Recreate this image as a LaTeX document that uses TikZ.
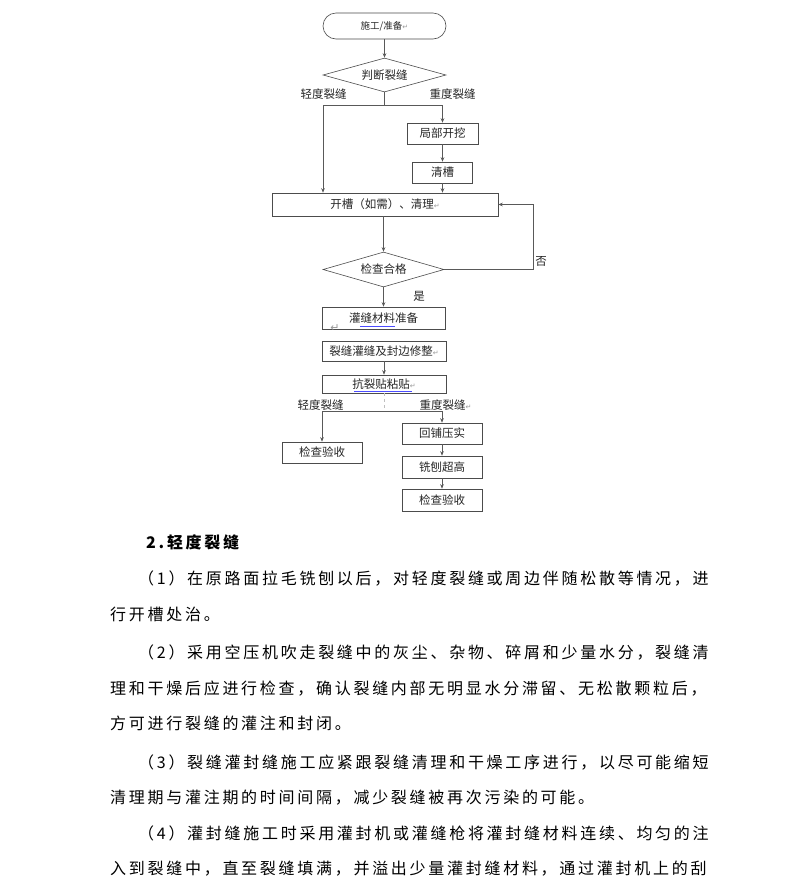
\documentclass[tikz,border=0pt]{standalone}
\usepackage{fontspec}
\setmainfont{Noto Sans CJK SC}
\newfontfamily\chartfont{Noto Sans CJK SC}
\newfontfamily\bodyfont[LetterSpace=17]{Noto Sans CJK SC}
\newfontfamily\markfont{DejaVu Sans}
\usepackage{tikz}
\usetikzlibrary{arrows.meta,positioning,shapes.geometric}
\newcommand\retmark{{\markfont\fontsize{7}{7}\selectfont\color{black!40}↵}}
\tikzset{
  fcBox/.style={draw=black!70, line width=0.6pt, fill=white, inner sep=0pt,
    minimum width=80pt, minimum height=21pt,
    text height=9pt, text depth=0.5pt, text=black!85,
    font=\chartfont\fontsize{11.5}{12}\selectfont},
  fcTerm/.style={fcBox, rounded corners=13pt, minimum width=123pt, minimum height=26pt,
    text height=7.5pt, font=\chartfont\fontsize{9.5}{10}\selectfont},
  fcDec/.style={fcBox, diamond, aspect=3.6, minimum width=123pt, minimum height=34pt},
  %% Connectors
  fcLine/.style={draw=black!65, line width=0.6pt},
  fcArr/.style={fcLine, ->, >={Stealth[length=4.5pt, width=3.6pt]}},
  fcFaint/.style={draw=black!25, line width=0.5pt, dashed},
  %% Branch labels
  fcLbl/.style={inner sep=0pt, text height=9pt, text depth=0.5pt, text=black!85,
    font=\chartfont\fontsize{11.5}{12}\selectfont},
  fcMark/.style={inner sep=0pt, text=black!40, font=\markfont\fontsize{11}{11}\selectfont},
  %% Paragraph text
  txtLine/.style={anchor=west, inner sep=0pt, text height=12.8pt, text depth=0.8pt,
    font=\bodyfont\fontsize{16}{16}\selectfont},
  txtHead/.style={txtLine, font=\bodyfont\bfseries\fontsize{16}{16}\selectfont},
}
\begin{document}
\begin{tikzpicture}[x=1pt, y=-1pt]
\fill[white] (0,0) rectangle (786,879);
\useasboundingbox (0,0) rectangle (786,879);

\node[fcTerm] (start)    at (384.5,26)  {施工/准备\retmark};
\node[fcDec]  (judge)    at (384.5,75)  {判断裂缝};
\node[fcBox, minimum width=71pt]  (wajue)    at (442.5,133.5) {局部开挖};
\node[fcBox, minimum width=60pt]  (qingcao)  at (442.5,172.5) {清槽};
\node[fcBox, minimum width=226pt, minimum height=23pt] (kaicao) at (385,204.5) {开槽（如需）、清理\retmark};
\node[fcDec, minimum width=121pt, minimum height=35pt] (check) at (383.5,269.5) {检查合格};
\node[fcBox, minimum width=123pt, minimum height=22pt] (cailiao)  at (383.5,318) {灌缝材料准备};
\node[fcBox, minimum width=124pt, minimum height=20pt] (guanfeng) at (384,351) {裂缝灌缝及封边修整\retmark};
\node[fcBox, minimum width=124pt, minimum height=18pt] (tiepian)  at (384,384) {抗裂贴粘贴\retmark};
\node[fcBox] (yanshouL) at (322,452.5) {检查验收};
\node[fcBox] (huipu)    at (442,433.5) {回铺压实};
\node[fcBox, minimum height=22pt] (xiaobao)  at (442,467) {铣刨超高};
\node[fcBox, minimum height=22pt] (yanshouR) at (442,500) {检查验收};

\node[fcLbl] (lblLight)  at (323.5,94)  {轻度裂缝};
\node[fcLbl] (lblHeavy)  at (452.5,94)  {重度裂缝};
\node[fcLbl] (lblNo)     at (541,261)   {否};
\node[fcLbl] (lblYes)    at (419,296)   {是};
\node[fcLbl] (lblLight2) at (320.5,405) {轻度裂缝};
\node[fcLbl] (lblHeavy2) at (445.5,405) {重度裂缝\retmark};
\node[fcMark] (stray)    at (335,328)   {↵};

\coordinate (brL)  at (323,105);
\coordinate (brL2) at (322,411);
\coordinate (brR2) at (442,411);

\draw[fcArr] (start) -- (judge);
\draw[fcArr] (judge.south) |- (brL) -- (brL |- kaicao.north);
\draw[fcArr] (judge.south) |- (wajue.north |- brL) -- (wajue.north);
\draw[fcArr] (wajue) -- (qingcao);
\draw[fcArr] (qingcao) -- (qingcao |- kaicao.north);
\draw[fcArr] (kaicao.south -| check) -- (check.north);
\draw[fcArr] (check.east) -- ++(89,0) |- (kaicao.east);
\draw[fcArr] (check) -- (cailiao);
\draw[fcArr] (guanfeng) -- (tiepian);
\draw[fcFaint] (tiepian.south) -- (tiepian.south |- brL2);
\draw[fcLine] (brL2) -- (brR2);
\draw[fcArr] (brL2) -- (yanshouL.north);
\draw[fcArr] (brR2) -- (huipu.north);
\draw[fcArr] (huipu) -- (xiaobao);
\draw[fcArr] (xiaobao) -- (yanshouR);

%% spell-check underlines
\draw[blue!70, line width=0.6pt] (360,326) -- (395,326);
\draw[blue!70, line width=0.6pt] (354,391.5) -- (412,391.5);

\node[txtHead] (head) at (146,542) {2.轻度裂缝};
\node[txtLine] (p1a) at (138,578) {（1）在原路面拉毛铣刨以后，对轻度裂缝或周边伴随松散等情况，进};
\node[txtLine] (p1b) at (110,614) {行开槽处治。};
\node[txtLine] (p2a) at (138,652) {（2）采用空压机吹走裂缝中的灰尘、杂物、碎屑和少量水分，裂缝清};
\node[txtLine] (p2b) at (110,688) {理和干燥后应进行检查，确认裂缝内部无明显水分滞留、无松散颗粒后，};
\node[txtLine] (p2c) at (110,723) {方可进行裂缝的灌注和封闭。};
\node[txtLine] (p3a) at (138,762) {（3）裂缝灌封缝施工应紧跟裂缝清理和干燥工序进行，以尽可能缩短};
\node[txtLine] (p3b) at (110,797) {清理期与灌注期的时间间隔，减少裂缝被再次污染的可能。};
\node[txtLine] (p4a) at (138,833) {（4）灌封缝施工时采用灌封机或灌缝枪将灌封缝材料连续、均匀的注};
\node[txtLine] (p4b) at (110,868) {入到裂缝中，直至裂缝填满，并溢出少量灌封缝材料，通过灌封机上的刮};

\end{tikzpicture}
\end{document}
